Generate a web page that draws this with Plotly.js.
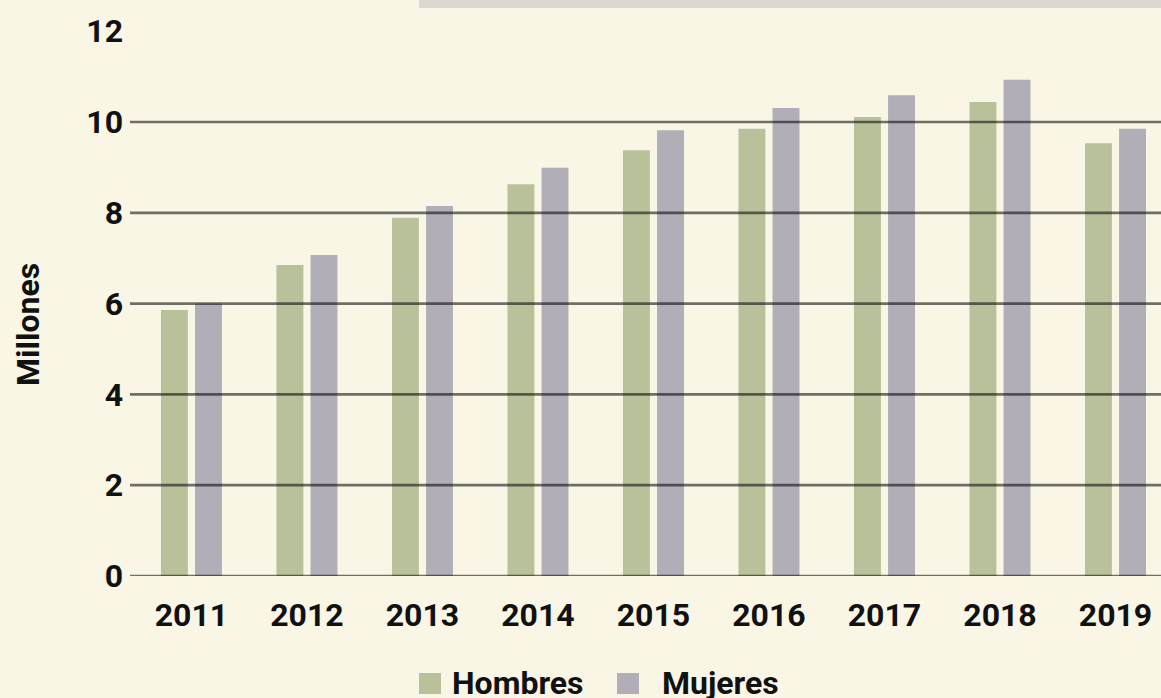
<!DOCTYPE html>
<html>
<head>
<meta charset="utf-8">
<script src="https://cdn.plot.ly/plotly-3.0.1.min.js"></script>
<style>
html,body{margin:0;padding:0;background:#f9f6e5;}
#chart{width:1161px;height:698px;}
</style>
</head>
<body>
<div id="chart"></div>
<script>
const years = ['2011','2012','2013','2014','2015','2016','2017','2018','2019'];
const hombres = [5.86, 6.85, 7.89, 8.63, 9.38, 9.85, 10.11, 10.44, 9.53];
const mujeres = [6.00, 7.07, 8.15, 8.99, 9.82, 10.31, 10.59, 10.93, 9.85];
const yTicks = [0, 2, 4, 6, 8, 10, 12];
const gridValues = [0, 2, 4, 6, 8, 10];
const seriesNames = ['Hombres', 'Mujeres'];
const colors = ['#b9c19a', '#b1aeb7'];
const yTitle = 'Millones';

const W = 1161, H = 698;
const L = 130, R = 0, T = 20, B = 122;
const pw = W - L - R, ph = H - T - B;
const px = x => (x - L) / pw;
const py = y => (H - B - y) / ph;

const font = {family: 'Roboto, "Open Sans", sans-serif', size: 32, color: '#111111', weight: 'bold'};

const traces = [hombres, mujeres].map((vals, i) => ({
  type: 'bar', x: years, y: vals, name: seriesNames[i],
  marker: {color: colors[i], line: {width: 0}},
  showlegend: false, hoverinfo: 'x+y+name'
}));

const shapes = gridValues.map(v => ({
  type: 'line', xref: 'paper', yref: 'y', x0: 0, x1: 1, y0: v, y1: v,
  line: {color: 'rgba(0,0,0,0.55)', width: 2.7}, layer: 'above'
}));
// top grey band
shapes.push({type: 'rect', xref: 'paper', yref: 'paper', x0: px(419), x1: 1, y0: py(8), y1: py(-2),
  fillcolor: '#dcd8cf', line: {width: 0}, layer: 'above'});
// legend swatches
const legendItems = [
  {sq: 419, tx: 450},
  {sq: 617, tx: 660}
];
const annotations = [];
legendItems.forEach((it, i) => {
  shapes.push({type: 'rect', xref: 'paper', yref: 'paper', x0: px(it.sq), x1: px(it.sq + 22),
    y0: py(694), y1: py(673), fillcolor: colors[i], line: {width: 0}});
  annotations.push({xref: 'paper', yref: 'paper', x: px(it.tx), y: py(683), xanchor: 'left', yanchor: 'middle',
    text: seriesNames[i], showarrow: false, font: font});
});
annotations.push({xref: 'paper', yref: 'paper', x: px(28), y: py(325), xanchor: 'center', yanchor: 'middle',
  text: yTitle, textangle: -90, showarrow: false, font: font});

const layout = {
  width: W, height: H,
  margin: {l: L, r: R, t: T, b: B, pad: 0},
  paper_bgcolor: '#f9f6e5', plot_bgcolor: '#f9f6e5',
  barmode: 'group', bargap: 0.41, bargroupgap: 0.21,
  showlegend: false,
  xaxis: {type: 'category', range: [-0.532, 8.394], showgrid: false, zeroline: false, showline: false,
    ticks: '', tickfont: font, ticklabelstandoff: 17, fixedrange: true},
  yaxis: {range: [0, (H - B - T) / 45.4], tickvals: yTicks, ticktext: yTicks.map(String),
    showgrid: false, zeroline: false, showline: false, ticks: '', tickfont: font, ticklabelstandoff: 6, fixedrange: true},
  shapes: shapes, annotations: annotations
};

Plotly.newPlot('chart', traces, layout, {displayModeBar: false, staticPlot: true});
</script>
</body>
</html>
